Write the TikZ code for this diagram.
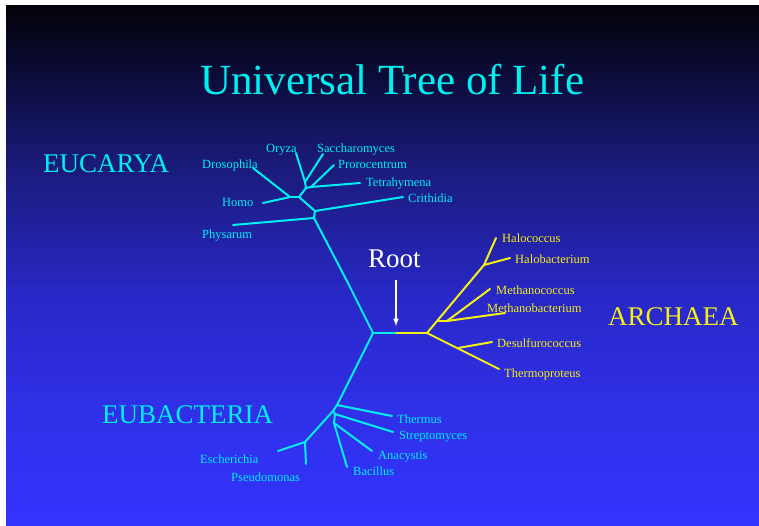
\documentclass[tikz,border=0pt]{standalone}
\usepackage{fontspec}
\setmainfont{Liberation Serif}
\usepackage{tikz}
\usetikzlibrary{arrows}

\definecolor{treecyan}{RGB}{0,240,240}
\definecolor{treeyellow}{RGB}{245,240,20}
\definecolor{bgA}{RGB}{51,51,255}
\definecolor{bgB}{RGB}{48,48,232}
\definecolor{bgC}{RGB}{40,40,200}
\definecolor{bgD}{RGB}{26,26,120}
\definecolor{bgE}{RGB}{12,12,60}
\definecolor{bgF}{RGB}{2,2,10}
\pgfdeclareverticalshading{slidebg}{100bp}{color(0bp)=(bgA); color(25bp)=(bgA); color(36bp)=(bgB); color(47bp)=(bgC); color(60bp)=(bgD); color(68bp)=(bgE); color(75bp)=(bgF); color(100bp)=(bgF)}

\begin{document}
\begin{tikzpicture}[x=1pt,y=-1pt]
					\tikzstyle{cyanline}=[treecyan,line width=2pt,line cap=round]
					\tikzstyle{yellowline}=[treeyellow,line width=2pt,line cap=round]
					\tikzstyle{leaf}=[anchor=base west,inner sep=0pt,font=\fontsize{12.5}{14}\selectfont]
					\tikzstyle{kingdom}=[anchor=base west,inner sep=0pt,font=\fontsize{27}{30}\selectfont]
					\useasboundingbox (0,0) rectangle (759,526);
					\fill[white] (0,0) rectangle (759,526);
					\shade[shading=slidebg] (6,6) rectangle (759,526);
					\node[anchor=base west,inner sep=0pt,text=treecyan,font=\fontsize{43}{48}\selectfont] (title) at (200,95) {Universal Tree of Life};
					\node[kingdom,text=treecyan] (euc) at (43,173) {EUCARYA};
					\node[kingdom,text=treeyellow] (arc) at (608,325) {ARCHAEA};
					\node[kingdom,text=treecyan] (eub) at (102,423) {EUBACTERIA};
					\node[kingdom,text=white] (root) at (368,268) {Root};
					\coordinate (rt) at (373,333);
					\coordinate (rm) at (396,333);
					\coordinate (an) at (427,333);
					\coordinate (ar) at (396,280);
					\coordinate (ah) at (396,326);
					\coordinate (n1) at (305,182);
					\coordinate (n2) at (306,188);
					\coordinate (n3) at (311,187);
					\coordinate (n4) at (299,197);
					\coordinate (n5) at (290,197);
					\coordinate (n6) at (315,211);
					\coordinate (n7) at (314,218);
					\coordinate (k1) at (349,285);
					\coordinate (ory) at (296,153);
					\coordinate (sac) at (323,154);
					\coordinate (pro) at (334,165);
					\coordinate (tet) at (360,183);
					\coordinate (dro) at (253,168);
					\coordinate (hom) at (263,203);
					\coordinate (cri) at (403,197);
					\coordinate (phy) at (233,225);
					\coordinate (ha) at (484,265);
					\coordinate (hac) at (496,238);
					\coordinate (hab) at (510,258);
					\coordinate (ma) at (437,321);
					\coordinate (mb) at (447,321);
					\coordinate (mec) at (490,289);
					\coordinate (meb) at (505,313);
					\coordinate (de) at (458,348);
					\coordinate (des) at (492,342);
					\coordinate (thp) at (499,369);
					\coordinate (b1) at (337,405);
					\coordinate (b2) at (333,411);
					\coordinate (b3) at (335,414);
					\coordinate (b4) at (334,423);
					\coordinate (b5) at (305,442);
					\coordinate (ths) at (392,416);
					\coordinate (str) at (393,432);
					\coordinate (ana) at (372,451);
					\coordinate (bac) at (347,467);
					\coordinate (esc) at (278,451);
					\coordinate (pse) at (306,464);
					\node[leaf,text=treecyan] (l1) at (266,153) {Oryza};
					\node[leaf,text=treecyan] (l2) at (317,153) {Saccharomyces};
					\node[leaf,text=treecyan] (l3) at (338,169) {Prorocentrum};
					\node[leaf,text=treecyan] (l4) at (366,187) {Tetrahymena};
					\node[leaf,text=treecyan] (l5) at (202,169) {Drosophila};
					\node[leaf,text=treecyan] (l6) at (222,207) {Homo};
					\node[leaf,text=treecyan] (l7) at (408,203) {Crithidia};
					\node[leaf,text=treecyan] (l8) at (202,239) {Physarum};
					\node[leaf,text=treeyellow] (l9) at (502,243) {Halococcus};
					\node[leaf,text=treeyellow] (l10) at (515,264) {Halobacterium};
					\node[leaf,text=treeyellow] (l11) at (496,294) {Methanococcus};
					\node[leaf,text=treeyellow] (l12) at (487,312) {Methanobacterium};
					\node[leaf,text=treeyellow] (l13) at (497,347) {Desulfurococcus};
					\node[leaf,text=treeyellow] (l14) at (504,377) {Thermoproteus};
					\node[leaf,text=treecyan] (l15) at (397,423) {Thermus};
					\node[leaf,text=treecyan] (l16) at (399,439) {Streptomyces};
					\node[leaf,text=treecyan] (l17) at (378,459) {Anacystis};
					\node[leaf,text=treecyan] (l18) at (353,475) {Bacillus};
					\node[leaf,text=treecyan] (l19) at (200,463) {Escherichia};
					\node[leaf,text=treecyan] (l20) at (231,481) {Pseudomonas};
					\draw[cyanline] (n1) -- (ory);
					\draw[cyanline] (n1) -- (sac);
					\draw[cyanline] (n1) -- (n2);
					\draw[cyanline] (n3) -- (pro);
					\draw[cyanline] (n3) -- (tet);
					\draw[cyanline] (n2) -- (n3);
					\draw[cyanline] (n2) -- (n4);
					\draw[cyanline] (n5) -- (dro);
					\draw[cyanline] (n5) -- (hom);
					\draw[cyanline] (n5) -- (n4);
					\draw[cyanline] (n4) -- (n6);
					\draw[cyanline] (n6) -- (cri);
					\draw[cyanline] (n6) -- (n7);
					\draw[cyanline] (n7) -- (phy);
					\draw[cyanline] (n7) -- (k1);
					\draw[cyanline] (k1) -- (rt);
					\draw[cyanline] (rt) -- (rm);
					\draw[yellowline] (rm) -- (an);
					\draw[yellowline] (an) -- (ha);
					\draw[yellowline] (ha) -- (hac);
					\draw[yellowline] (ha) -- (hab);
					\draw[yellowline] (ma) -- (mb);
					\draw[yellowline] (mb) -- (mec);
					\draw[yellowline] (mb) -- (meb);
					\draw[yellowline] (an) -- (thp);
					\draw[yellowline] (de) -- (des);
					\draw[cyanline] (rt) -- (b1);
					\draw[cyanline] (b1) -- (ths);
					\draw[cyanline] (b1) -- (b2);
					\draw[cyanline] (b2) -- (b3);
					\draw[cyanline] (b3) -- (str);
					\draw[cyanline] (b3) -- (b4);
					\draw[cyanline] (b4) -- (ana);
					\draw[cyanline] (b4) -- (bac);
					\draw[cyanline] (b2) -- (b5);
					\draw[cyanline] (b5) -- (esc);
					\draw[cyanline] (b5) -- (pse);
					\draw[white,line width=1.5pt,-latex] (ar) -- (ah);
					\end{tikzpicture}
\end{document}
